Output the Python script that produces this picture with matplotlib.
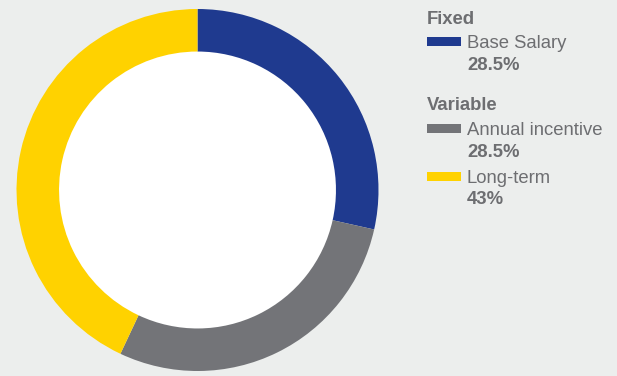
import matplotlib
matplotlib.use("Agg")
import matplotlib.pyplot as plt
from matplotlib.patches import Rectangle

labels = ["Base Salary", "Annual incentive", "Long-term"]
values = [28.5, 28.5, 43]
value_labels = ["28.5%", "28.5%", "43%"]
groups = ["Fixed", "Variable"]
colors = ["#1F3A8F", "#737478", "#FFD200"]

BG = "#ECEEED"
TXT = "#6D6E71"
W, H = 617, 376

plt.rcParams['font.family'] = ['Liberation Sans', 'DejaVu Sans']
fig = plt.figure(figsize=(W / 100, H / 100), dpi=100, facecolor=BG)

cx, cy, r = 197.5, 190, 181
ax = fig.add_axes([(cx - r) / W, 1 - (cy + r) / H, 2 * r / W, 2 * r / H])
ax.set_facecolor(BG)
ax.pie(values, colors=colors, startangle=90, counterclock=False, radius=1,
       wedgeprops=dict(width=0.235, edgecolor='none', linewidth=0))
ax.add_patch(plt.Circle((0, 0), 0.765, color='white', zorder=0))
ax.set_xlim(-1, 1)
ax.set_ylim(-1, 1)
ax.set_aspect('equal')
ax.axis('off')

def fy(y):
    return 1 - y / H

def fx(x):
    return x / W

fs = 13.3
# group headers
fig.text(fx(427), fy(24), groups[0], fontsize=fs, fontweight='bold', color=TXT, va='baseline')
fig.text(fx(427), fy(110), groups[1], fontsize=fs, fontweight='bold', color=TXT, va='baseline')

sw_top = [37, 124, 172]
lab_base = [48.5, 135, 183]
val_base = [70, 157, 204]
for i in range(3):
    fig.patches.append(Rectangle((fx(427), fy(sw_top[i] + 9)), 34 / W, 9 / H,
                                 transform=fig.transFigure, facecolor=colors[i],
                                 edgecolor='none'))
    fig.text(fx(467), fy(lab_base[i]), labels[i], fontsize=fs, color=TXT, va='baseline')
    fig.text(fx(467), fy(val_base[i]), value_labels[i], fontsize=fs, fontweight='bold',
             color=TXT, va='baseline')

fig.savefig("out.png", dpi=100, facecolor=BG)
